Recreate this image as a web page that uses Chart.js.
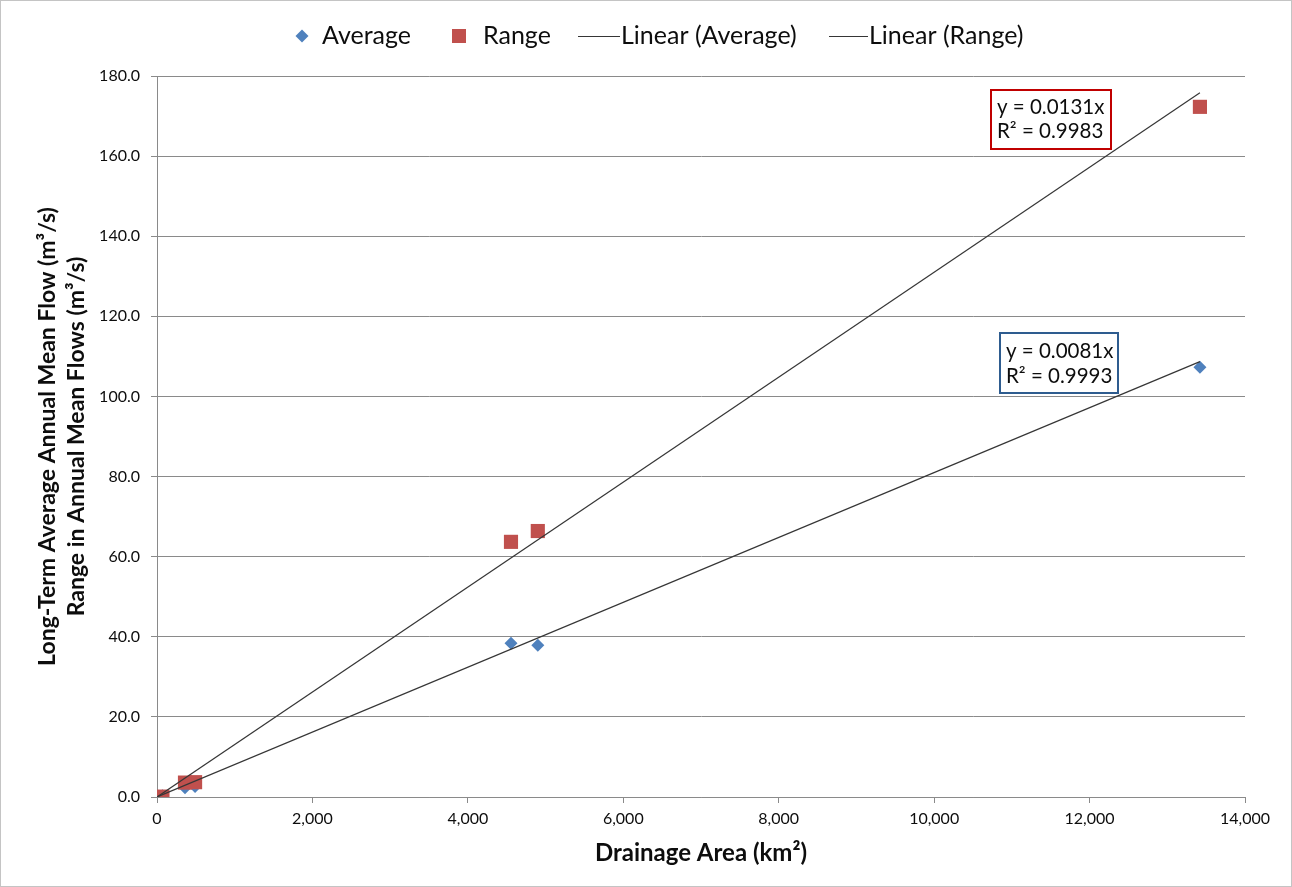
<!DOCTYPE html>
<html>
<head>
<meta charset="utf-8">
<title>Drainage area vs flow</title>
<script src="https://cdn.jsdelivr.net/npm/chart.js@4.4.1/dist/chart.umd.min.js"></script>
<style>
    html, body { margin: 0; padding: 0; background: #fff; }
    #wrap { width: 1292px; height: 887px; box-sizing: border-box; border: 1px solid #c4c4c4; }
    canvas { display: block; }
</style>
</head>
<body>
<div id="wrap"><canvas id="flowChart" width="1290" height="885"></canvas></div>
<script>
// Drainage area of each gauge (km²)
const drainageArea = [70, 360, 490, 4555, 4900, 13420];
// Long-term average annual mean flow (m³/s)
const averageFlow = [0.3, 2.3, 2.6, 38.4, 37.9, 107.3];
// Range in annual mean flows (m³/s)
const rangeFlow = [0.1, 3.6, 3.7, 63.7, 66.4, 172.3];
const seriesNames = ['Average', 'Range'];

// Linear trendlines through the origin, as printed on the chart
const trendNames = ['Linear (Average)', 'Linear (Range)'];
const trendSlopes = [0.0081, 0.0131];
const trendR2 = [0.9993, 0.9983];

// Axis ticks
const xTickValues = [0, 2000, 4000, 6000, 8000, 10000, 12000, 14000];
const yTickValues = [0, 20, 40, 60, 80, 100, 120, 140, 160, 180];

const COLORS = {
    average: '#4F81BD',
    range: '#C0504D',
    trend: '#363636',
    grid: '#8a8a8a',
    text: '#0d0d0d'
};

const toPoints = (xs, ys) => xs.map((x, i) => ({ x: x, y: ys[i] }));
const xMax = Math.max(...drainageArea);
const trendPoints = trendSlopes.map(m => [{ x: 0, y: 0 }, { x: xMax, y: m * xMax }]);

/**
 * Legend drawn like the Excel one (markers, short lines, labels)
 */
const excelLegend = {
    id: 'excelLegend',
    afterDraw(chart) {
        const ctx = chart.ctx;
        const y = 35;
        ctx.save();
        ctx.textBaseline = 'middle';

        // Average: diamond
        ctx.fillStyle = COLORS.average;
        ctx.beginPath();
        ctx.moveTo(301, y - 6.5);
        ctx.lineTo(307.5, y);
        ctx.lineTo(301, y + 6.5);
        ctx.lineTo(294.5, y);
        ctx.closePath();
        ctx.fill();

        // Range: square
        ctx.fillStyle = COLORS.range;
        ctx.fillRect(451, y - 7, 14, 14);

        // trendlines
        ctx.strokeStyle = COLORS.trend;
        ctx.lineWidth = 1.2;
        ctx.beginPath();
        ctx.moveTo(577, y + 0.5); ctx.lineTo(619, y + 0.5);
        ctx.moveTo(828, y + 0.5); ctx.lineTo(867, y + 0.5);
        ctx.stroke();

        ctx.font = '25px Lato';
        ctx.fillStyle = COLORS.text;
        ctx.fillText(seriesNames[0], 321, y);
        ctx.fillText(seriesNames[1], 482, y);
        ctx.fillText(trendNames[0], 620, y);
        ctx.fillText(trendNames[1], 868, y);
        ctx.restore();
    }
};

/**
 * Trendline equation boxes
 */
const equationBoxes = {
    id: 'equationBoxes',
    afterDatasetsDraw(chart) {
        const { ctx, chartArea } = chart;
        const boxes = [
            { i: 1, left: 834, top: 14, w: 120, h: 59, color: '#C00000', lines: [17, 41] },
            { i: 0, left: 843, top: 257, w: 118, h: 60, color: '#2E5C8F', lines: [18, 43] }
        ];
        ctx.save();
        boxes.forEach(b => {
            const x = chartArea.left + b.left;
            const y = chartArea.top + b.top;
            ctx.fillStyle = '#fff';
            ctx.fillRect(x, y, b.w, b.h);
            ctx.strokeStyle = b.color;
            ctx.lineWidth = 2;
            ctx.strokeRect(x, y, b.w, b.h);

            ctx.fillStyle = COLORS.text;
            ctx.font = '20.5px Lato';
            ctx.textBaseline = 'middle';
            ctx.fillText('y = ' + trendSlopes[b.i].toFixed(4) + 'x', x + 6, y + b.lines[0]);
            ctx.fillText('R\u00B2 = ' + trendR2[b.i].toFixed(4), x + 6, y + b.lines[1]);
        });
        ctx.restore();
    }
};

function drawChart() {
    Chart.defaults.font.family = 'Lato';
    Chart.defaults.color = COLORS.text;

    new Chart(document.getElementById('flowChart'), {
        type: 'scatter',
        data: {
            datasets: [
                {
                    label: trendNames[0],
                    data: trendPoints[0],
                    showLine: true,
                    borderColor: COLORS.trend,
                    borderWidth: 1.2,
                    pointRadius: 0,
                    order: 0
                },
                {
                    label: trendNames[1],
                    data: trendPoints[1],
                    showLine: true,
                    borderColor: COLORS.trend,
                    borderWidth: 1.2,
                    pointRadius: 0,
                    order: 0
                },
                {
                    label: seriesNames[1],
                    data: toPoints(drainageArea, rangeFlow),
                    pointStyle: 'rect',
                    pointRadius: 10,
                    backgroundColor: COLORS.range,
                    borderWidth: 0,
                    order: 1
                },
                {
                    label: seriesNames[0],
                    data: toPoints(drainageArea, averageFlow),
                    pointStyle: 'rectRot',
                    pointRadius: 6.5,
                    backgroundColor: COLORS.average,
                    borderWidth: 0,
                    order: 2
                }
            ]
        },
        options: {
            responsive: false,
            animation: false,
            layout: { padding: { top: 75, right: 46, bottom: 10, left: 32 } },
            plugins: {
                legend: { display: false },
                tooltip: { enabled: false }
            },
            scales: {
                x: {
                    type: 'linear',
                    min: 0,
                    max: 14000,
                    afterBuildTicks: s => { s.ticks = xTickValues.map(v => ({ value: v })); },
                    afterFit: s => { s.height = 79; },
                    border: { color: COLORS.grid, width: 1 },
                    grid: {
                        drawOnChartArea: false,
                        drawTicks: true,
                        tickLength: 6,
                        color: COLORS.grid
                    },
                    ticks: {
                        padding: 6,
                        maxRotation: 0,
                        font: { size: 16 },
                        callback: v => v.toLocaleString('en-US')
                    },
                    title: {
                        display: true,
                        text: 'Drainage Area (km\u00B2)',
                        font: { size: 24, weight: 'bold' },
                        padding: { top: 0, bottom: 8 }
                    }
                },
                y: {
                    type: 'linear',
                    min: 0,
                    max: 180,
                    afterBuildTicks: s => { s.ticks = yTickValues.map(v => ({ value: v })); },
                    afterFit: s => { s.width = 124; },
                    border: { color: COLORS.grid, width: 1 },
                    grid: {
                        color: COLORS.grid,
                        drawTicks: true,
                        tickLength: 6
                    },
                    ticks: {
                        padding: 11,
                        font: { size: 16 },
                        callback: v => v.toFixed(1)
                    },
                    title: {
                        display: true,
                        text: [
                            'Long-Term Average Annual Mean Flow (m\u00B3/s)',
                            'Range in Annual Mean Flows (m\u00B3/s)'
                        ],
                        font: { size: 23, weight: 'bold', lineHeight: 1.25 },
                        padding: { top: 0, bottom: 0 }
                    }
                }
            }
        },
        plugins: [equationBoxes, excelLegend]
    });
}

document.fonts.load('16px Lato').then(drawChart, drawChart);
</script>
</body>
</html>
